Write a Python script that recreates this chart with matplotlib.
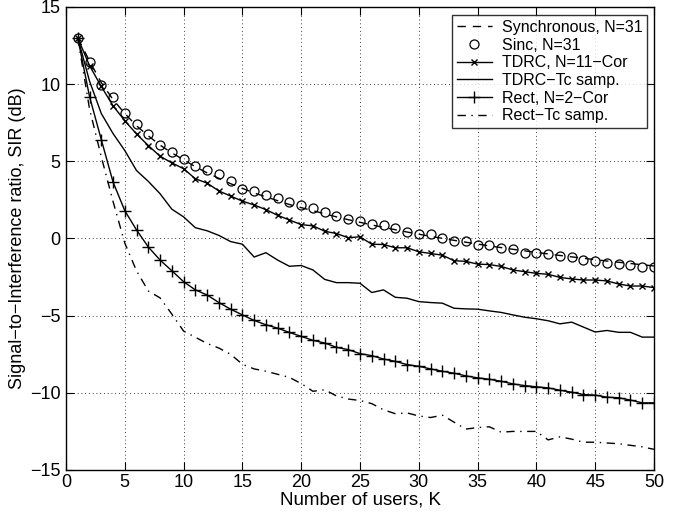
import numpy as np
import matplotlib
matplotlib.use("Agg")
import matplotlib.pyplot as plt

K = list(range(1, 51))

sync_sir = [13.0, 11.5, 10.1, 9.0, 8.1, 7.3, 6.65, 6.05, 5.55, 5.1,
            4.65, 4.25, 3.9, 3.55, 3.25, 2.95, 2.7, 2.45, 2.2, 2.0,
            1.8, 1.6, 1.4, 1.22, 1.05, 0.88, 0.72, 0.57, 0.42, 0.28,
            0.14, 0.01, -0.12, -0.24, -0.36, -0.48, -0.59, -0.7, -0.8, -0.9,
            -1.0, -1.1, -1.19, -1.28, -1.37, -1.46, -1.54, -1.62, -1.7, -1.78]

sinc_sir = [13.0, 11.44, 9.96, 9.14, 8.13, 7.42, 6.77, 6.06, 5.59, 5.12,
            4.73, 4.47, 4.19, 3.70, 3.23, 3.05, 2.80, 2.65, 2.37, 2.15,
            2.0, 1.72, 1.46, 1.29, 1.12, 0.95, 0.86, 0.65, 0.43, 0.26,
            0.32, 0.05, -0.14, -0.16, -0.41, -0.45, -0.59, -0.69, -0.92, -0.97,
            -1.03, -1.14, -1.23, -1.40, -1.44, -1.57, -1.66, -1.70, -1.83, -1.85]

tdrc_sir = [13.0, 11.2, 9.85, 8.6, 7.63, 6.77, 6.02, 5.33, 4.9, 4.52,
            3.87, 3.59, 3.08, 2.75, 2.42, 2.17, 1.87, 1.5, 1.2, 0.9,
            0.82, 0.47, 0.32, 0.05, 0.11, -0.37, -0.39, -0.6, -0.6, -0.86,
            -0.97, -1.08, -1.44, -1.48, -1.66, -1.69, -1.81, -2.04, -2.15, -2.26,
            -2.32, -2.52, -2.62, -2.69, -2.69, -2.75, -2.95, -3.08, -3.08, -3.18]

tdrc_tc_sir = [13.0, 10.2, 8.1, 6.8, 5.7, 4.4, 3.7, 2.9, 1.9, 1.4,
               0.7, 0.5, 0.2, -0.2, -0.37, -1.2, -0.92, -1.4, -1.8, -1.75,
               -2.04, -2.65, -2.86, -2.86, -2.9, -3.5, -3.33, -3.81, -3.87, -4.09,
               -4.15, -4.19, -4.52, -4.56, -4.58, -4.69, -4.79, -4.95, -5.1, -5.2,
               -5.33, -5.53, -5.42, -5.74, -6.06, -5.96, -6.08, -6.08, -6.39, -6.39]

rect_sir = [13.0, 9.2, 6.41, 3.66, 1.8, 0.55, -0.55, -1.4, -2.09, -2.8,
            -3.33, -3.66, -4.15, -4.58, -4.95, -5.31, -5.59, -5.81, -6.09, -6.34,
            -6.6, -6.77, -7.05, -7.2, -7.46, -7.59, -7.81, -7.96, -8.17, -8.28,
            -8.45, -8.6, -8.73, -8.9, -9.03, -9.12, -9.25, -9.42, -9.53, -9.61,
            -9.68, -9.83, -9.96, -10.11, -10.15, -10.28, -10.32, -10.47, -10.65, -10.65]

rect_tc_sir = [13.0, 8.4, 5.3, 2.4, -0.3, -2.1, -3.4, -3.85, -4.9, -6.0,
               -6.4, -6.8, -7.1, -7.5, -8.15, -8.45, -8.6, -8.8, -9.0, -9.4,
               -9.9, -9.8, -10.2, -10.4, -10.5, -10.7, -11.1, -11.35, -11.3, -11.5,
               -11.6, -11.45, -11.9, -12.35, -12.25, -12.2, -12.55, -12.5, -12.5, -12.5,
               -13.05, -12.85, -13.0, -13.2, -13.2, -13.25, -13.3, -13.4, -13.5, -13.66]

labels = ["Synchronous, N=31", "Sinc, N=31", "TDRC, N=11\u2212Cor",
          "TDRC\u2212Tc samp.", "Rect, N=2\u2212Cor", "Rect\u2212Tc samp."]

xticks = list(range(0, 51, 5))
yticks = list(range(-15, 16, 5))

plt.rcParams['font.family'] = ['Liberation Sans', 'DejaVu Sans']

fig = plt.figure(figsize=(6.79, 5.16), dpi=100)
ax = fig.add_axes([66/679, 1 - 470/516, (654 - 66)/679, (470 - 7)/516])

lw = 1.0
ax.plot(K, sync_sir, color='k', lw=lw, ls=(0, (6, 5)), label=labels[0])
ax.plot(K, sinc_sir, color='k', ls='none', marker='o', ms=6.5, mfc='none',
        mew=0.9, label=labels[1])
ax.plot(K, tdrc_sir, color='k', lw=lw, marker='x', ms=5, mew=1.0, label=labels[2])
ax.plot(K, tdrc_tc_sir, color='k', lw=lw, label=labels[3])
ax.plot(K, rect_sir, color='k', lw=lw, marker='+', ms=8, mew=1.0, label=labels[4])
ax.plot(K, rect_tc_sir, color='k', lw=lw, ls=(0, (6, 4, 1, 4)), label=labels[5])

ax.set_xlim(0, 50)
ax.set_ylim(-15, 15)
ax.set_xticks(xticks)
ax.set_yticks(yticks)
ax.grid(True, color='k', ls=(0, (1, 3.5)), lw=0.6)
ax.tick_params(direction='in', top=True, right=True, length=6, width=0.8,
               labelsize=13)
ax.tick_params(axis='y', pad=4)
ax.tick_params(axis='x', pad=3)
for s in ax.spines.values():
    s.set_linewidth(1.0)

ax.set_xlabel("Number of users, K", fontsize=13.5, labelpad=0)
ax.set_ylabel("Signal\u2212to\u2212Interference ratio, SIR (dB)", fontsize=13, labelpad=3)

leg = ax.legend(loc='upper right', bbox_to_anchor=(1 - 7/588, 1 - 8/463),
                borderaxespad=0, fontsize=11.5, frameon=True, fancybox=False,
                handlelength=2.2, handletextpad=0.6, labelspacing=0.17,
                borderpad=0.3)
leg.get_frame().set_edgecolor('k')
leg.get_frame().set_linewidth(1.0)

fig.savefig("out.png", dpi=100)
